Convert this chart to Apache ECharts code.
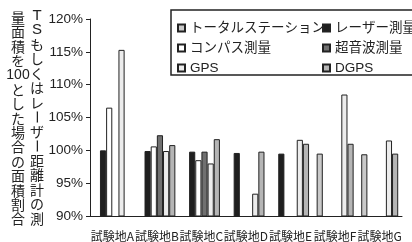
<!DOCTYPE html>
<html>
<head>
<meta charset="utf-8">
<script src="https://cdn.jsdelivr.net/npm/echarts@6/dist/echarts.min.js"></script>
<style>
html,body{margin:0;padding:0;background:#fff;}
#chart{width:412px;height:242px;}
</style>
</head>
<body>
<div id="chart"></div>
<script>
// ---- data ----
const categories = ['試験地A', '試験地B', '試験地C', '試験地D', '試験地E', '試験地F', '試験地G'];
const seriesNames = ['トータルステーション', 'レーザー測量', 'コンパス測量', '超音波測量', 'GPS', 'DGPS'];
const totalStation = [null, null, null, null, null, 99.5, 99.4];
const laser        = [100.0, 99.9, 99.8, 99.6, 99.5, null, null];
const compass      = [106.5, 100.6, 98.5, null, null, null, null];
const ultrasonic   = [null, 102.3, 99.8, null, null, null, null];
const gps          = [115.3, 99.9, 98.0, 93.4, 101.6, 108.5, 101.5];
const dgps         = [null, 100.8, 101.7, 99.8, 101.0, 101.0, 99.5];
const yTicks = [90, 95, 100, 105, 110, 115, 120];
const titleRight = ['T','S','も','し','く','は','レ','ー','ザ','ー','距','離','計','の','測'];
const titleLeft  = ['量','面','積','を','100','と','し','た','場','合','の','面','積','割','合'];

const values = [totalStation, laser, compass, ultrasonic, gps, dgps];
const fills = ['#c9c9c9', '#1f1f1f', '#ffffff', '#707070', '#ececec', '#b5b5b5'];
const ink = '#222';
const cjk = '"Noto Sans CJK JP", sans-serif';
const latin = '"Liberation Sans", "Noto Sans CJK JP", sans-serif';

const chart = echarts.init(document.getElementById('chart'), null, {renderer: 'canvas'});

// vertical axis title, one text per character cell
const graphics = [];
function addColumn(chars, cx, y0, step) {
  chars.forEach(function (ch, i) {
    const isBar = ch === 'ー';
    graphics.push({
      type: 'text',
      x: cx, y: y0 + i * step,
      rotation: isBar ? -Math.PI / 2 : 0,
      style: {
        text: ch,
        fill: ink,
        font: (ch === '100' ? '14px ' + latin : (ch === 'T' || ch === 'S' ? '15px ' + latin : '14px ' + cjk)),
        align: 'center',
        verticalAlign: 'middle'
      }
    });
  });
}
addColumn(titleRight, 37, 15.5, 14.5);
addColumn(titleLeft, 18, 17.5, 14.4);
graphics.push({
  type: 'rect',
  shape: {x: 171, y: 10, width: 250, height: 65},
  style: {fill: 'none', stroke: ink, lineWidth: 1.5},
  z: 0
});

const series = seriesNames.map(function (name, i) {
  return {
    name: name,
    type: 'bar',
    data: values[i],
    barGap: '0%',
    barCategoryGap: '17%',
    clip: true,
    itemStyle: {color: fills[i], borderColor: ink, borderWidth: 1},
    emphasis: {disabled: true},
    animation: false
  };
});

const legendCommon = {
  orient: 'vertical',
  icon: 'rect',
  itemWidth: 7,
  itemHeight: 7,
  itemGap: 6,
  selectedMode: false,
  textStyle: {color: ink, fontSize: 13.5, fontFamily: latin, lineHeight: 14}
};

chart.setOption({
  animation: false,
  graphic: graphics,
  legend: [
    Object.assign({left: 172, top: 16, data: [seriesNames[0], seriesNames[2], seriesNames[4]]}, legendCommon),
    Object.assign({left: 317, top: 16, data: [seriesNames[1], seriesNames[3], seriesNames[5]]}, legendCommon)
  ],
  grid: {left: 90, right: 10, top: 19, bottom: 21.5, containLabel: false},
  xAxis: {
    type: 'category',
    data: categories,
    axisLine: {lineStyle: {color: ink, width: 1}},
    axisTick: {length: 3, lineStyle: {color: ink}},
    axisLabel: {interval: 0, margin: 14, color: ink, fontSize: 12, fontFamily: cjk}
  },
  yAxis: {
    type: 'value',
    min: yTicks[0],
    max: yTicks[yTicks.length - 1],
    interval: 5,
    splitLine: {show: false},
    axisLine: {show: true, lineStyle: {color: ink, width: 1}},
    axisTick: {show: true, length: 4, lineStyle: {color: ink}},
    axisLabel: {formatter: '{value}%', margin: 7, color: ink, fontSize: 13.5, fontFamily: latin}
  },
  series: series
});
</script>
</body>
</html>
